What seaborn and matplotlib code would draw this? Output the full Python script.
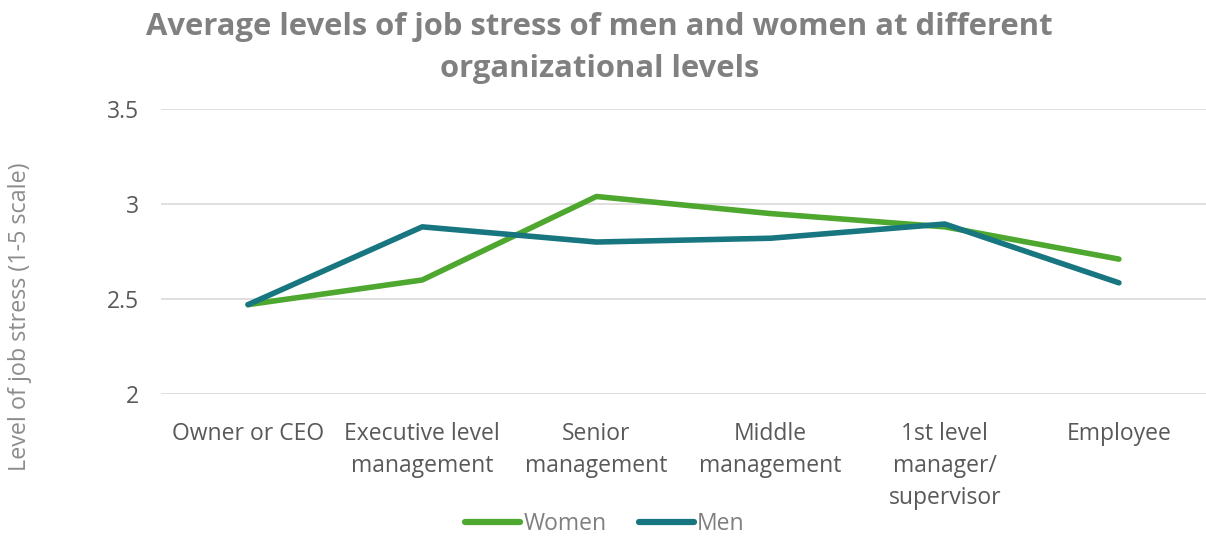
import matplotlib
matplotlib.use("Agg")
import matplotlib.pyplot as plt
import seaborn as sns
import pandas as pd

categories = ["Owner or CEO", "Executive level\nmanagement", "Senior\nmanagement",
              "Middle\nmanagement", "1st level\nmanager/\nsupervisor", "Employee"]
women = [2.47, 2.60, 3.04, 2.95, 2.88, 2.71]
men = [2.47, 2.88, 2.80, 2.82, 2.895, 2.585]
series_names = ["Women", "Men"]
colors = {"Women": "#4EA72E", "Men": "#17767F"}

sns.set_theme(style="white")
plt.rcParams["font.family"] = ["Open Sans", "DejaVu Sans"]

df = pd.DataFrame({
    "cat": list(range(len(categories))) * 2,
    "value": women + men,
    "series": [series_names[0]] * len(women) + [series_names[1]] * len(men),
})

fig = plt.figure(figsize=(12.06, 5.38), dpi=100)
ax = fig.add_axes([0.1335, 0.268, 0.8665, 0.529])
sns.lineplot(data=df, x="cat", y="value", hue="series", palette=colors,
             linewidth=4, ax=ax, legend=True, solid_capstyle="round")

ax.set_xlim(-0.5, len(categories) - 0.5)
ax.set_ylim(2, 3.5)
ax.set_yticks([2, 2.5, 3, 3.5])
ax.set_yticklabels(["2", "2.5", "3", "3.5"])
ax.set_xticks(range(len(categories)))
ax.set_xticklabels(categories, va="top", linespacing=1.45)
ax.tick_params(axis="both", length=0, labelsize=16.5, labelcolor="#595959")
ax.tick_params(axis="x", pad=20)
ax.tick_params(axis="y", pad=16)
ax.yaxis.grid(True, color="#d9d9d9", linewidth=1.2)
for s in ax.spines.values():
    s.set_visible(False)
ax.set_xlabel("")
ax.set_ylabel("")
fig.text(20 / 1206, 1 - 317 / 538, "Level of job stress (1-5 scale)", rotation=90,
         ha="center", va="center", fontsize=16.8, color="#8c8c8c")

fig.suptitle("Average levels of job stress of men and women at different\norganizational levels",
             fontsize=22.3, fontweight="bold", color="#808080", x=0.497, y=0.978, linespacing=1.55)

ax.get_legend().remove()
handles, labels = ax.get_legend_handles_labels()
leg = fig.legend(handles, labels, loc="center", bbox_to_anchor=(605 / 1206, 1 - 524 / 538),
                 ncol=2, frameon=False, fontsize=16.5, handlelength=2.4, handletextpad=0.15,
                 columnspacing=1.4)
for t in leg.get_texts():
    t.set_color("#7f7f7f")
for l in leg.get_lines():
    l.set_linewidth(4.5)
    l.set_solid_capstyle("round")

fig.savefig("out.png", dpi=100)
